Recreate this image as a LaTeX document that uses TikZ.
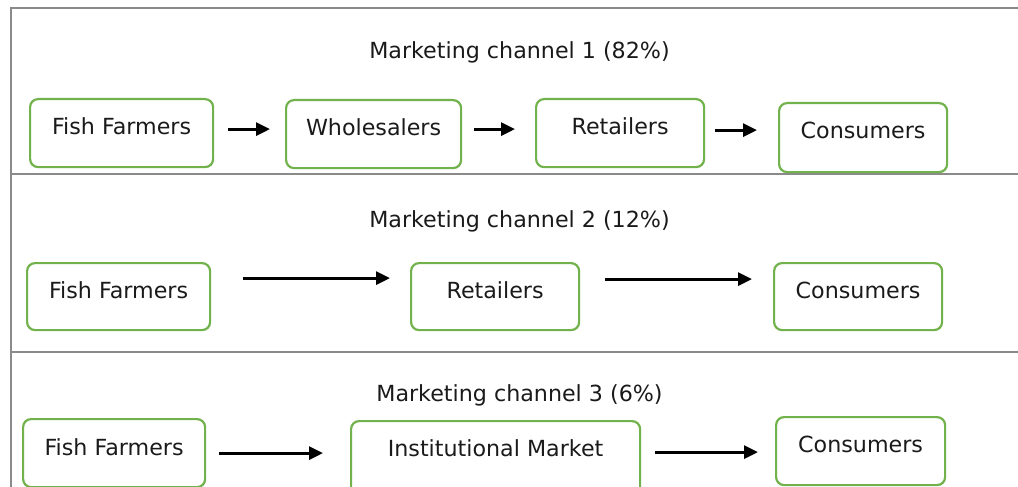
\documentclass[tikz,border=0pt]{standalone}
\usepackage{fontspec}
\setmainfont{DejaVu Sans}
\usetikzlibrary{arrows.meta}
\definecolor{boxgreen}{HTML}{72B24C}
\definecolor{framegray}{HTML}{8A8A8A}
\definecolor{txt}{HTML}{1A1A1A}
\tikzset{
  box/.style={draw=boxgreen, line width=2.2pt, rounded corners=8pt, inner sep=0pt,
    anchor=north west, align=center, text=txt, font=\fontsize{22.2}{26}\selectfont},
  title/.style={anchor=base, text=txt, inner sep=0pt, font=\fontsize{22.2}{26}\selectfont},
  arr/.style={line width=3pt, -{Triangle[length=14pt,width=13pt]}},
  frame/.style={draw=framegray, line width=2pt}
}
\begin{document}
\begin{tikzpicture}[x=1pt,y=-1pt]
\useasboundingbox (0,0) rectangle (1018,487);
% frame
\coordinate (ftl) at (10.5,8.5);
\coordinate (ftr) at (1018,8.5);
\coordinate (fbl) at (10.5,487);
\coordinate (m1l) at (10.5,174);
\coordinate (m1r) at (1018,174);
\coordinate (m2l) at (10.5,352);
\coordinate (m2r) at (1018,352);
\draw[frame] (fbl) -- (ftl) -- (ftr);
\draw[frame] (m1l) -- (m1r);
\draw[frame] (m2l) -- (m2r);
% titles
\node[title] (t1) at (519.5,59) {Marketing channel 1 (82\%)};
\node[title] (t2) at (519.5,227) {Marketing channel 2 (12\%)};
\node[title] (t3) at (519.5,401) {Marketing channel 3 (6\%)};
% row 1
\node[box, minimum width=183pt, text height=35pt, text depth=33pt] (FF1) at (29,98) {Fish Farmers};
\node[box, minimum width=175pt, text height=35pt, text depth=33pt] (W1) at (285,99) {Wholesalers};
\node[box, minimum width=168pt, text height=35pt, text depth=33pt] (R1) at (535,98) {Retailers};
\node[box, minimum width=168pt, text height=35pt, text depth=34pt] (C1) at (778,102) {Consumers};
% row 2
\node[box, minimum width=183pt, text height=35pt, text depth=32pt] (FF2) at (26,262) {Fish Farmers};
\node[box, minimum width=168pt, text height=35pt, text depth=32pt] (R2) at (410,262) {Retailers};
\node[box, minimum width=168pt, text height=35pt, text depth=32pt] (C2) at (773,262) {Consumers};
% row 3
\node[box, minimum width=182pt, text height=36pt, text depth=32pt] (FF3) at (22,418) {Fish Farmers};
\node[box, minimum width=289pt, text height=35pt, text depth=39pt] (IM3) at (350,420) {Institutional Market};
\node[box, minimum width=169pt, text height=35pt, text depth=33pt] (C3) at (775,416) {Consumers};
% arrows row 1
\draw[arr] ([shift={(14,-4)}]FF1.east) -- ([shift={(-15,-5)}]W1.west);
\draw[arr] ([shift={(12,-5)}]W1.east) -- ([shift={(-20,-4)}]R1.west);
\draw[arr] ([shift={(10,-3)}]R1.east) -- ([shift={(-21,-7.5)}]C1.west);
% arrows row 2
\draw[arr] ([shift={(32,-18.5)}]FF2.east) -- ([shift={(-20,-18.5)}]R2.west);
\draw[arr] ([shift={(25,-17.5)}]R2.east) -- ([shift={(-21,-17.5)}]C2.west);
% arrows row 3
\draw[arr] ([shift={(13,0)}]FF3.east) -- ([shift={(-27,-5)}]IM3.west);
\draw[arr] ([shift={(14,-6)}]IM3.east) -- ([shift={(-17,1)}]C3.west);
\end{tikzpicture}
\end{document}
